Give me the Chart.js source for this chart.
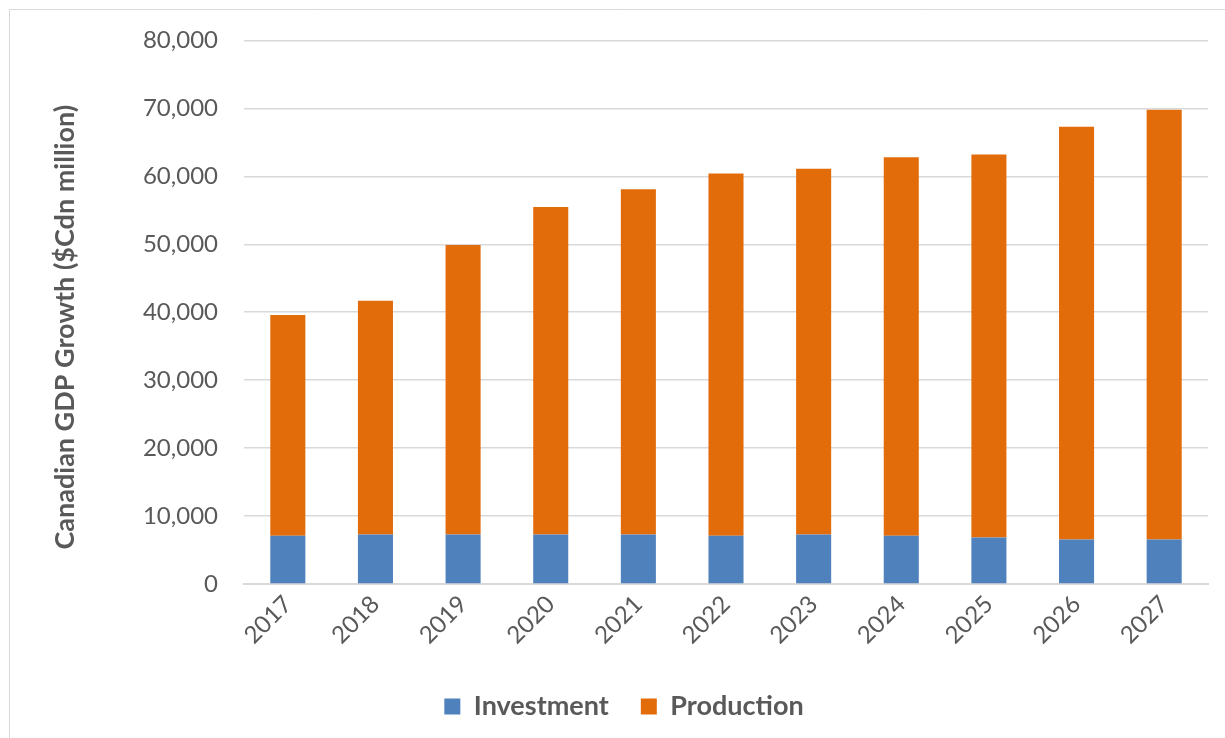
<!DOCTYPE html>
<html>
<head>
<meta charset="utf-8">
<script src="https://cdn.jsdelivr.net/npm/chart.js@4.4.1/dist/chart.umd.min.js"></script>
<style>
  html, body { margin: 0; padding: 0; background: #ffffff; }
  #wrap { width: 1225px; height: 738px; position: relative; }
</style>
</head>
<body>
<div id="wrap"><canvas id="gdp" width="1225" height="738"></canvas></div>
<script>
// Years on the category axis
const years = ['2017', '2018', '2019', '2020', '2021', '2022', '2023', '2024', '2025', '2026', '2027'];

// GDP contribution, $Cdn million
const investment = [7100, 7300, 7300, 7300, 7300, 7100, 7300, 7100, 6850, 6550, 6550];
const production = [32500, 34400, 42600, 48200, 50800, 53300, 53800, 55700, 56350, 60750, 63250];

// Value axis ticks
const yTicks = [0, 10000, 20000, 30000, 40000, 50000, 60000, 70000, 80000];

const axisTitle = 'Canadian GDP Growth ($Cdn million)';
const textGrey = '#595959';
const fontFamily = 'Lato, "Open Sans", "DejaVu Sans", sans-serif';

// Thin frame along the top and left edges of the figure
const framePlugin = {
  id: 'frame',
  beforeDraw(chart) {
    const ctx = chart.ctx;
    ctx.save();
    ctx.fillStyle = '#ffffff';
    ctx.fillRect(0, 0, chart.width, chart.height);
    ctx.strokeStyle = '#d9d9d9';
    ctx.lineWidth = 1;
    ctx.beginPath();
    ctx.moveTo(9.5, chart.height);
    ctx.lineTo(9.5, 9.5);
    ctx.lineTo(chart.width, 9.5);
    ctx.stroke();
    ctx.restore();
  }
};

// Vertical value-axis title, set a little below the plot's midline
const axisTitlePlugin = {
  id: 'axisTitle',
  afterDraw(chart) {
    const ctx = chart.ctx;
    const area = chart.chartArea;
    ctx.save();
    ctx.translate(65, (area.top + area.bottom) / 2 + 15);
    ctx.rotate(-Math.PI / 2);
    ctx.font = 'bold 27px ' + fontFamily;
    ctx.fillStyle = textGrey;
    ctx.textAlign = 'center';
    ctx.textBaseline = 'middle';
    ctx.fillText(axisTitle, 0, 0);
    ctx.restore();
  }
};

new Chart(document.getElementById('gdp'), {
  type: 'bar',
  data: {
    labels: years,
    datasets: [
      {
        label: 'Investment',
        data: investment,
        backgroundColor: '#4f81bd',
        barPercentage: 0.4,
        categoryPercentage: 1.0
      },
      {
        label: 'Production',
        data: production,
        backgroundColor: '#e36c0a',
        barPercentage: 0.4,
        categoryPercentage: 1.0
      }
    ]
  },
  options: {
    responsive: false,
    animation: false,
    devicePixelRatio: 1,
    layout: { padding: { left: 40, right: 17, top: 20, bottom: 8 } },
    plugins: {
      legend: {
        position: 'bottom',
        labels: {
          color: textGrey,
          font: { family: fontFamily, size: 27, weight: 'bold' },
          boxWidth: 16,
          boxHeight: 16,
          padding: 32
        }
      },
      tooltip: { enabled: false }
    },
    scales: {
      x: {
        stacked: true,
        grid: { display: false, drawTicks: false },
        border: { display: true, color: '#d9d9d9', width: 2 },
        ticks: {
          color: textGrey,
          font: { family: fontFamily, size: 24 },
          maxRotation: 45,
          minRotation: 45,
          padding: 6
        },
        afterFit(scale) { scale.height = 77; }
      },
      y: {
        stacked: true,
        min: 0,
        max: 80000,
        afterBuildTicks(scale) { scale.ticks = yTicks.map(v => ({ value: v })); },
        grid: { color: '#d9d9d9', lineWidth: 1.5, drawTicks: false },
        border: { display: false },
        ticks: {
          color: textGrey,
          font: { family: fontFamily, size: 24 },
          padding: 26,
          callback: v => v.toLocaleString('en-US')
        },
        title: { display: false },
        afterFit(scale) { scale.width = 204; }
      }
    }
  },
  plugins: [framePlugin, axisTitlePlugin]
});
</script>
</body>
</html>
